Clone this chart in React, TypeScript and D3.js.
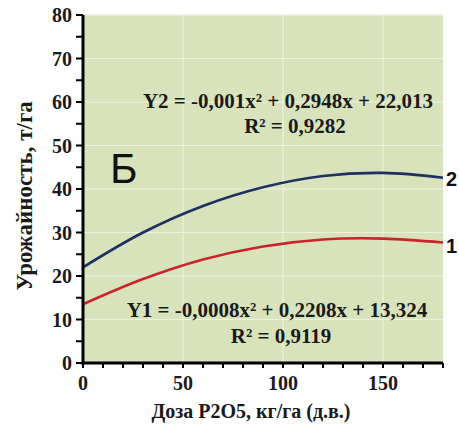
import React from "react";
import * as d3 from "d3";

const doses = [0, 30, 60, 90, 120, 150, 180];
const yield2 = [22.0, 30.0, 36.1, 40.4, 43.0, 43.7, 42.6];
const yield1 = [13.5, 19.3, 23.8, 26.8, 28.4, 28.6, 27.7];

const xTicks = [0, 50, 100, 150];
const yTicks = [0, 10, 20, 30, 40, 50, 60, 70, 80];

const W = 459;
const H = 424;
const serif = { fontFamily: "Liberation Serif", fontWeight: 700 };
const sans = "Liberation Sans";

const App = () => {
  const x = d3.scaleLinear().domain([0, 180]).range([83, 443]);
  const y = d3.scaleLinear().domain([0, 80]).range([363, 15]);

  const line = d3
    .line<number>()
    .x((d, i) => x(doses[i]))
    .y((d) => y(d))
    .curve(d3.curveCatmullRom);

  const minorY = d3.range(0, 81, 5);
  const minorX = d3.range(0, 181, 10);

  return (
    <svg
      width={W}
      height={H}
      style={{ position: "absolute", left: 0, top: 0, background: "#fff" }}
    >
      {/* plot background */}
      <rect x={x(0)} y={y(80)} width={x(180) - x(0)} height={y(0) - y(80)} fill="#d8e3bc" />

      {/* grid */}
      {yTicks.slice(1).map((t) => (
        <line key={"gy" + t} x1={x(0)} x2={x(180)} y1={y(t)} y2={y(t)} stroke="#edf2df" strokeWidth={1.2} />
      ))}
      {[50, 100, 150].map((t) => (
        <line key={"gx" + t} x1={x(t)} x2={x(t)} y1={y(0)} y2={y(80)} stroke="#edf2df" strokeWidth={1.2} />
      ))}

      {/* curves */}
      <path d={line(yield2) || ""} fill="none" stroke="#1c3160" strokeWidth={2.6} />
      <path d={line(yield1) || ""} fill="none" stroke="#c8242b" strokeWidth={2.6} />

      {/* axes */}
      {minorY.map((t) => (
        <line key={"ty" + t} x1={x(0) - 7} x2={x(0)} y1={y(t)} y2={y(t)} stroke="#000" strokeWidth={2} />
      ))}
      {minorX.map((t) => (
        <line key={"tx" + t} x1={x(t)} x2={x(t)} y1={y(0)} y2={y(0) + 5} stroke="#000" strokeWidth={2} />
      ))}
      <line x1={x(0)} x2={x(0)} y1={y(80)} y2={y(0) + 1.5} stroke="#000" strokeWidth={3} />
      <line x1={x(0) - 1.5} x2={x(180)} y1={y(0)} y2={y(0)} stroke="#000" strokeWidth={3} />

      {yTicks.map((t) => (
        <text key={"ly" + t} x={x(0) - 11} y={y(t) + 7} textAnchor="end" style={serif} fontSize={20} fill="#1a1a1a">
          {t}
        </text>
      ))}
      {xTicks.map((t) => (
        <text key={"lx" + t} x={x(t)} y={390} textAnchor="middle" style={serif} fontSize={20} fill="#1a1a1a">
          {t}
        </text>
      ))}

      {/* axis titles */}
      <text
        transform={`translate(32, 196) rotate(-90)`}
        textAnchor="middle"
        style={serif}
        fontSize={23}
        fill="#1a1a1a"
      >
        Урожайность, т/га
      </text>
      <text x={251} y={418} textAnchor="middle" style={serif} fontSize={20} fill="#1a1a1a">
        Доза P2O5, кг/га (д.в.)
      </text>

      {/* equations */}
      <g style={serif} fontSize={21} fill="#1a1a1a" textAnchor="middle">
        <text x={288} y={108}>
          Y2 = -0,001x² + 0,2948x + 22,013
        </text>
        <text x={295} y={133}>
          R² = 0,9282
        </text>
        <text x={277} y={317}>
          Y1 = -0,0008x² + 0,2208x + 13,324
        </text>
        <text x={281} y={343}>
          R² = 0,9119
        </text>
      </g>

      <text x={110} y={183} fontFamily={sans} fontSize={42} fill="#111">
        Б
      </text>
      <text x={446} y={186} fontFamily={sans} fontWeight="bold" fontSize={20} fill="#111">
        2
      </text>
      <text x={446} y={253} fontFamily={sans} fontWeight="bold" fontSize={20} fill="#111">
        1
      </text>
    </svg>
  );
};

export default App;
